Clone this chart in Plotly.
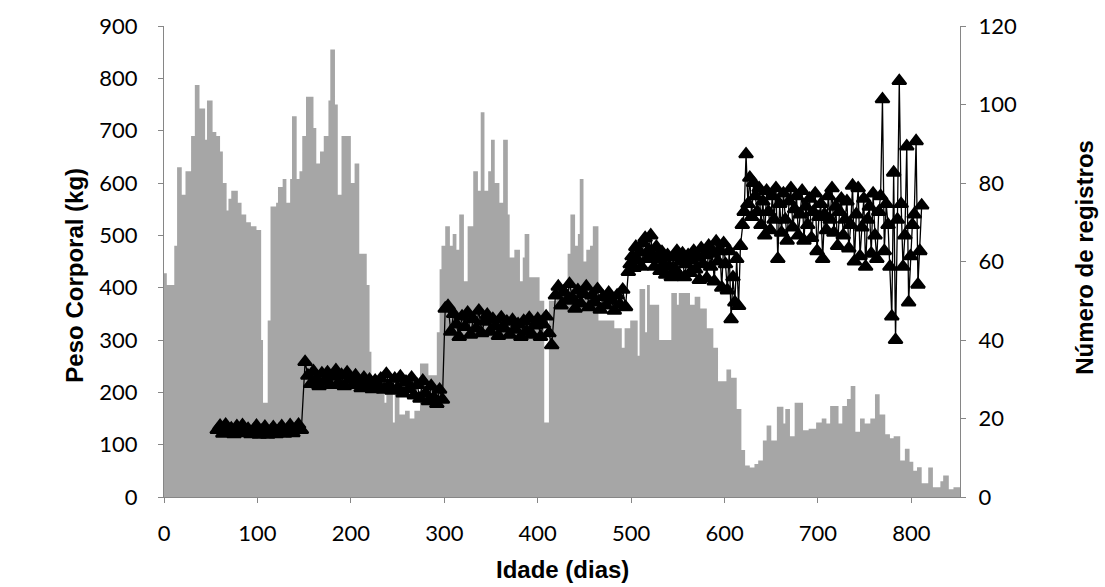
import plotly.graph_objects as go

# ---- Número de registros (gray histogram, right axis) ----
hist_dias = [0, 3, 11, 14, 19, 23, 29, 33, 38, 44,
             46, 52, 56, 60, 63, 67, 69, 72, 79, 83,
             88, 93, 99, 104, 106, 111, 114, 120, 122, 127,
             131, 135, 137, 142, 145, 148, 152, 160, 163, 167,
             171, 176, 178, 183, 186, 190, 200, 204, 209, 217,
             220, 222, 236, 238, 245, 247, 252, 258, 263, 268,
             274, 283, 292, 295, 297, 301, 306, 309, 313, 316,
             321, 325, 331, 336, 339, 343, 347, 350, 354, 359,
             363, 368, 370, 375, 381, 384, 386, 391, 402, 407,
             412, 420, 432, 435, 440, 443, 445, 449, 452, 456,
             459, 465, 482, 490, 493, 499, 507, 509, 515, 517,
             520, 530, 543, 549, 551, 563, 568, 574, 581, 588,
             593, 602, 607, 613, 618, 622, 627, 632, 636, 641,
             645, 650, 656, 663, 665, 670, 675, 684, 690, 698,
             704, 709, 713, 722, 726, 731, 735, 740, 745, 750,
             756, 761, 766, 772, 777, 781, 788, 793, 798, 802,
             806, 811, 818, 823, 831, 834, 840, 845, 852]
hist_registros = [57, 54, 64, 84, 77, 83, 92, 105, 99, 91,
                  101, 93, 92, 88, 80, 73, 76, 78, 75, 72,
                  70, 69, 68, 40, 24, 45, 74, 75, 79, 81,
                  75, 81, 97, 81, 83, 92, 102, 94, 85, 88,
                  92, 101, 114, 100, 77, 92, 80, 85, 62, 54,
                  37, 27, 24, 28, 19, 27, 21, 22, 20, 22,
                  34, 31, 42, 58, 64, 69, 64, 67, 63, 72,
                  55, 69, 83, 78, 98, 78, 83, 91, 80, 75,
                  91, 72, 61, 63, 55, 61, 67, 56, 50, 19,
                  50, 53, 62, 72, 64, 67, 81, 60, 63, 64,
                  69, 45, 43, 38, 43, 45, 36, 53, 42, 54,
                  49, 40, 52, 49, 52, 49, 51, 48, 43, 38,
                  29.5, 32.5, 30.4, 22.4, 12, 8, 7.5, 8.4, 9.3, 14.4,
                  18.2, 14.4, 23, 18.7, 22.4, 15.5, 24, 17, 17.4, 19,
                  20, 18.7, 23.2, 18.7, 23.2, 25, 28.3, 16.6, 20, 18.7,
                  20, 26.2, 21, 16, 15, 15.5, 9.3, 12.3, 9, 6.7,
                  7.6, 3.5, 7.5, 2.5, 4, 5.5, 2, 2.5, 0]

# ---- Peso Corporal (kg) (black line with triangles, left axis) ----
dias_fase1 = [57, 60, 63, 66, 69, 72, 75, 78, 81, 84, 87, 90, 93, 96, 99, 102,
              105, 108, 111, 114, 117, 120, 123, 126, 129, 132, 135, 138, 141, 144, 147]
kg_fase1 = [128, 136, 121, 138, 125, 131, 120, 135, 126, 137, 122, 130, 120, 128, 136, 119,
            127, 134, 119, 126, 133, 120, 128, 135, 121, 129, 137, 122, 130, 138, 128]

dias_fase2 = [151, 154, 157, 160, 163, 166, 169, 172, 175, 178, 181, 184, 187, 190, 193, 196,
              199, 202, 205, 208, 211, 214, 217, 220, 223, 226, 229, 232, 235, 238, 241, 244,
              247, 250, 253, 256, 259, 262, 265, 268, 271, 274, 277, 280, 283, 286, 289, 292,
              295, 298]
kg_fase2 = [258, 232, 216, 240, 225, 212, 236, 222, 238, 214, 230, 242, 218, 233, 212, 238,
            225, 214, 232, 219, 208, 228, 212, 224, 206, 222, 210, 226, 205, 235, 213, 203,
            226, 208, 230, 198, 220, 206, 228, 194, 214, 188, 222, 198, 183, 212, 190, 178,
            205, 186]

dias_fase3 = [301, 304, 307, 310, 313, 316, 319, 322, 325, 328, 331, 334, 337, 340, 343, 346,
              349, 352, 355, 358, 361, 364, 367, 370, 373, 376, 379, 382, 385, 388, 391, 394,
              397, 400, 403, 406, 409, 412, 415]
kg_fase3 = [360, 365, 316, 350, 330, 306, 345, 325, 352, 310, 340, 322, 356, 313, 335, 348,
            316, 340, 326, 308, 343, 322, 335, 310, 338, 320, 330, 306, 336, 316, 342, 310,
            328, 340, 306, 330, 345, 313, 290]

dias_fase4 = [419, 422, 425, 428, 431, 434, 437, 440, 443, 446, 449, 452, 455, 458, 461, 464,
              467, 470, 473, 476, 479, 482, 485, 488, 491, 494]
kg_fase4 = [385, 402, 366, 392, 375, 407, 380, 360, 395, 370, 388, 402, 363, 385, 372, 397,
            358, 382, 366, 390, 375, 356, 385, 368, 396, 363]

dias_fase5 = [497, 499, 501, 503, 505, 507, 509, 511, 513, 515, 517, 519, 521, 523, 525, 527,
              529, 531, 533, 535, 537, 539, 541, 543, 545, 547, 549, 551, 553, 555, 557, 559,
              561, 563, 565, 567, 569, 571, 573, 575, 577, 579, 581, 583, 585, 587, 589, 591,
              593, 595, 597, 599, 601, 603, 605, 607, 609, 611, 613, 615]
kg_fase5 = [430, 445, 460, 438, 478, 452, 468, 440, 485, 495, 455, 472, 500, 460, 440, 478,
            455, 432, 468, 445, 425, 462, 440, 420, 458, 435, 470, 425, 450, 465, 420, 445,
            462, 428, 452, 470, 435, 458, 415, 475, 445, 462, 418, 480, 440, 465, 412, 488,
            450, 470, 400, 485, 445, 395, 470, 340, 420, 372, 455, 365]

dias_fase6 = [617, 619, 621, 623, 625, 627, 629, 631, 633, 635, 637, 639, 641, 643, 645, 647,
              649, 651, 653, 655, 657, 659, 661, 663, 665, 667, 669, 671, 673, 675, 677, 679,
              681, 683, 685, 687, 689, 691, 693, 695, 697, 699, 701, 703, 705, 707, 709, 711,
              713, 715, 717, 719, 721, 723, 725, 727, 729, 731, 733, 735, 737, 739, 741, 743,
              745, 747, 749, 751, 753, 755, 757, 759, 761, 763, 765, 767,
              769, 771, 773, 775, 777, 779, 781, 783, 785, 787, 789, 791, 793, 795, 797, 799,
              801, 803, 805, 807, 809, 811]
kg_fase6 = [480, 520, 545, 655, 560, 610, 535, 600, 575, 545, 590, 520, 565, 500, 585, 545,
            510, 575, 530, 590, 455, 560, 505, 580, 530, 490, 565, 590, 515, 550, 575, 500,
            540, 585, 490, 555, 520, 570, 495, 545, 580, 470, 535, 560, 455, 540, 510, 575,
            530, 590, 505, 555, 480, 545, 570, 500, 530, 565, 475, 520, 595, 450, 540, 590,
            460, 515, 570, 440, 530, 555, 465, 580, 500, 455, 545, 575,
            760, 470, 560, 520, 440, 345, 620, 300, 530, 795, 560, 440, 500, 670, 372, 460,
            520, 540, 680, 406, 470, 557]

peso_dias = dias_fase1 + dias_fase2 + dias_fase3 + dias_fase4 + dias_fase5 + dias_fase6
peso_kg = kg_fase1 + kg_fase2 + kg_fase3 + kg_fase4 + kg_fase5 + kg_fase6

x_ticks = [0, 100, 200, 300, 400, 500, 600, 700, 800]

AXIS_GRAY = "#868686"
TICK_FONT = dict(family="Lato, Open Sans, sans-serif", size=22, color="black")
TITLE_FONT = dict(family="Liberation Sans, Arial, sans-serif", size=24, color="black")

fig = go.Figure()

fig.add_trace(go.Scatter(
    x=hist_dias, y=hist_registros, mode="lines",
    line=dict(shape="hv", width=0, color="#A6A6A6"),
    fill="tozeroy", fillcolor="#A6A6A6",
    yaxis="y", hoverinfo="skip", name="Número de registros",
))

fig.add_trace(go.Scatter(
    x=peso_dias, y=peso_kg, mode="lines+markers",
    line=dict(color="black", width=1.3),
    marker=dict(symbol="triangle-up", size=12, color="black",
                line=dict(color="black", width=2.2)),
    yaxis="y2", name="Peso Corporal (kg)",
))

fig.update_layout(
    width=1105, height=587,
    margin=dict(l=164, r=145, t=22, b=90),
    plot_bgcolor="white", paper_bgcolor="white",
    showlegend=False,
    xaxis=dict(
        range=[0, 852], tickvals=x_ticks, showgrid=False, zeroline=False,
        showline=True, linecolor=AXIS_GRAY, linewidth=1,
        ticks="outside", ticklen=5, tickcolor=AXIS_GRAY,
        tickfont=TICK_FONT, ticklabelstandoff=12,
    ),
    yaxis=dict(
        side="right", range=[0, 120], dtick=20, showgrid=False, zeroline=False,
        showline=True, linecolor=AXIS_GRAY, linewidth=1,
        ticks="outside", ticklen=5, tickcolor=AXIS_GRAY,
        tickfont=TICK_FONT, ticklabelstandoff=8,
    ),
    yaxis2=dict(
        overlaying="y", side="left", anchor="x", range=[0, 900], dtick=100,
        showgrid=False, zeroline=False,
        showline=True, linecolor=AXIS_GRAY, linewidth=1,
        ticks="outside", ticklen=5, tickcolor=AXIS_GRAY,
        tickfont=TICK_FONT, ticklabelstandoff=16,
    ),
    annotations=[
        dict(text="<b>Peso Corporal (kg)</b>", xref="paper", yref="paper",
             x=-0.1118, y=0.47, textangle=-90, showarrow=False,
             xanchor="center", yanchor="middle", font=TITLE_FONT),
        dict(text="<b>Número de registros</b>", xref="paper", yref="paper",
             x=1.157, y=0.51, textangle=-90, showarrow=False,
             xanchor="center", yanchor="middle", font=TITLE_FONT),
        dict(text="<b>Idade (dias)</b>", xref="paper", yref="paper",
             x=0.5, y=-0.154, showarrow=False,
             xanchor="center", yanchor="middle", font=TITLE_FONT),
    ],
)

fig.write_html("out.html", config={"displayModeBar": False},
               post_script="document.body.style.margin='0px';")
